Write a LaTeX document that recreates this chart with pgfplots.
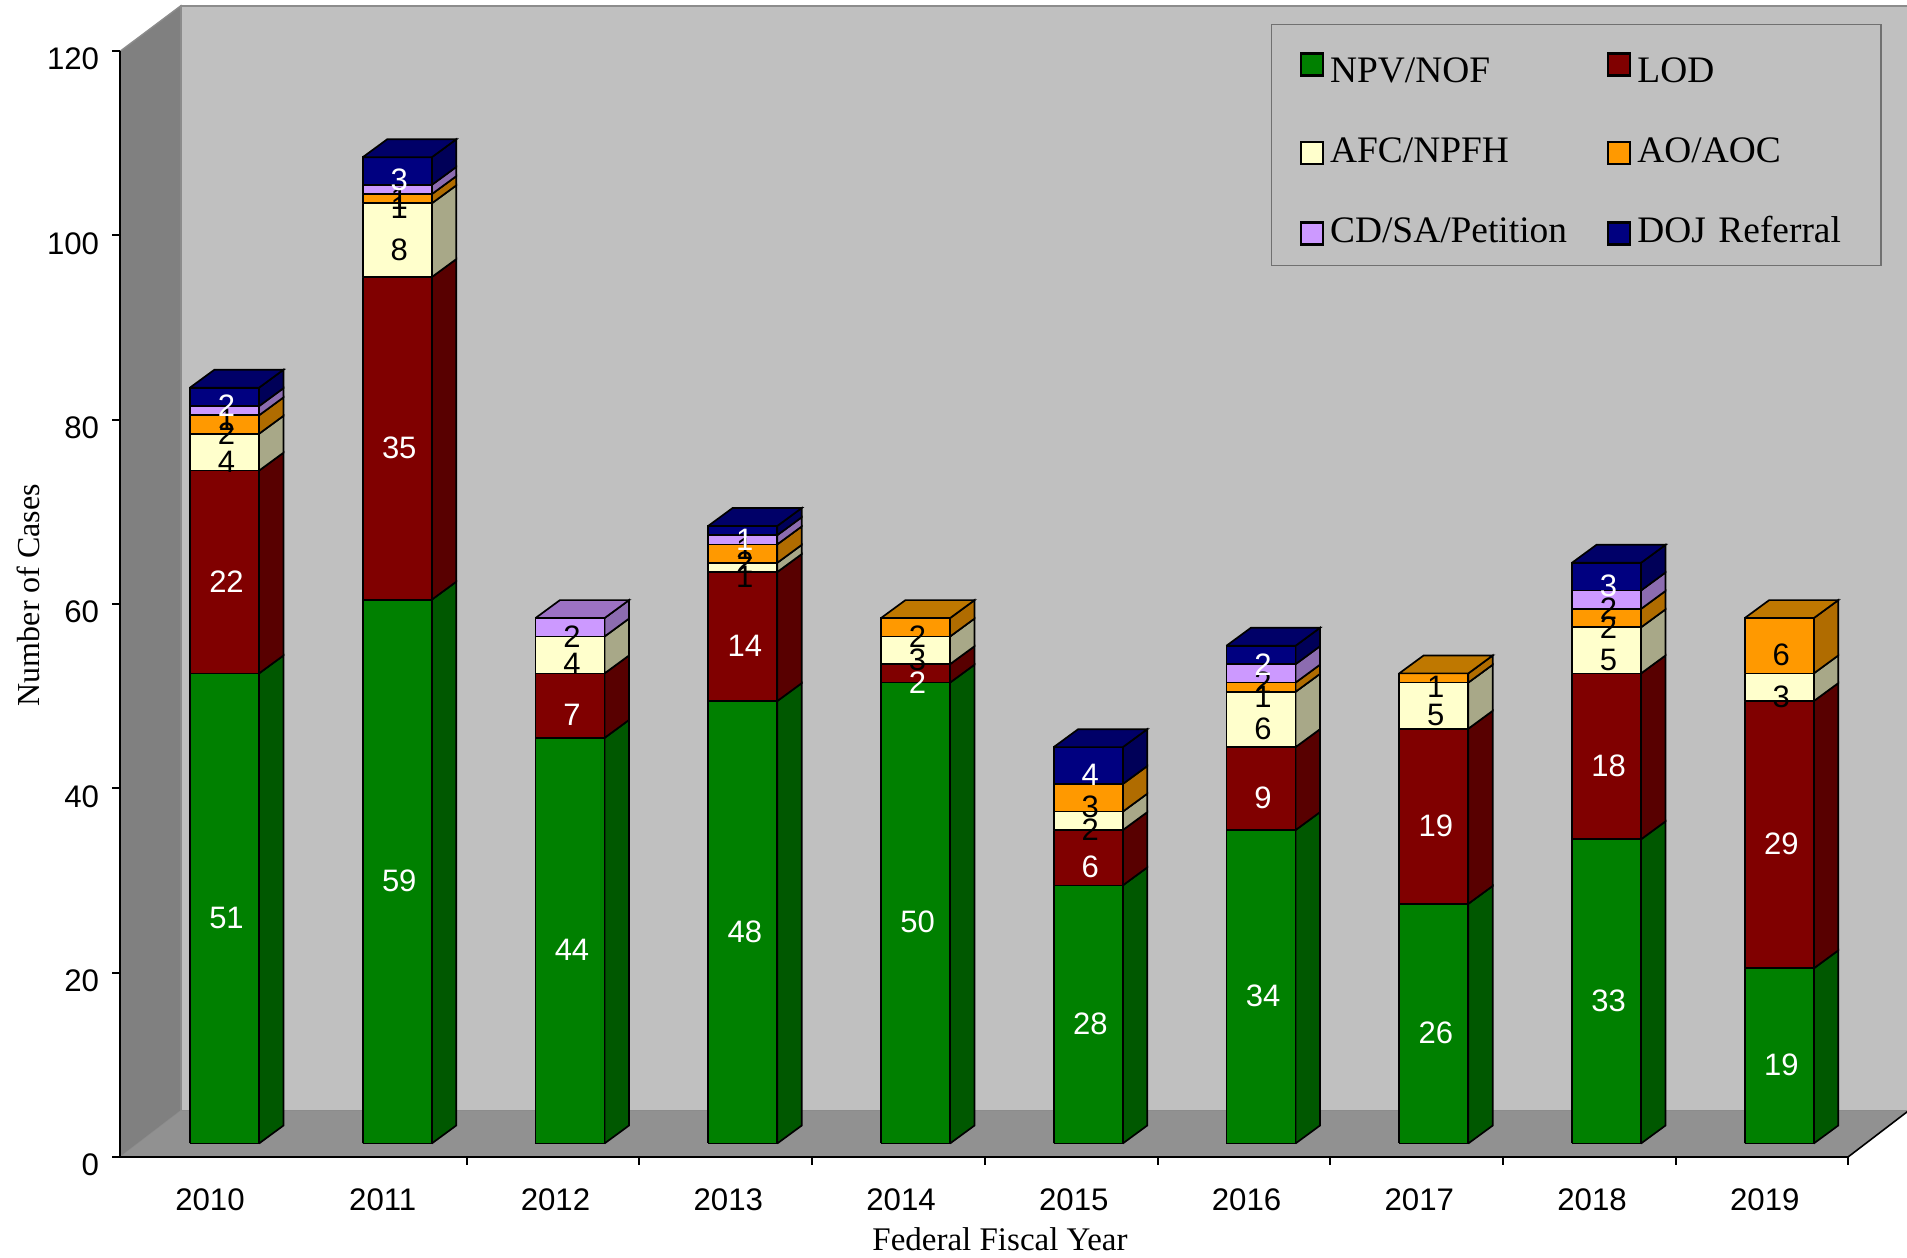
\documentclass[border=0pt]{standalone}
\usepackage{pgfplots}
\pgfplotsset{compat=1.18}
\usepackage{fontspec}
\setmainfont{Liberation Sans}
\newfontfamily\serifface{Liberation Serif}
\definecolor{cNPV}{HTML}{008000}\definecolor{sNPV}{HTML}{005800}\definecolor{tNPV}{HTML}{006000}
\definecolor{cLOD}{HTML}{800000}\definecolor{sLOD}{HTML}{580000}\definecolor{tLOD}{HTML}{600000}
\definecolor{cAFC}{HTML}{FFFFCC}\definecolor{sAFC}{HTML}{A8A888}\definecolor{tAFC}{HTML}{C0C09A}
\definecolor{cAO}{HTML}{FF9900}\definecolor{sAO}{HTML}{B06C00}\definecolor{tAO}{HTML}{BF7800}
\definecolor{cCD}{HTML}{CC99FF}\definecolor{sCD}{HTML}{8C6CB0}\definecolor{tCD}{HTML}{9C72C4}
\definecolor{cDOJ}{HTML}{000080}\definecolor{sDOJ}{HTML}{000058}\definecolor{tDOJ}{HTML}{000068}
\definecolor{wallc}{HTML}{C0C0C0}\definecolor{sidewall}{HTML}{808080}\definecolor{floorc}{HTML}{919191}
\definecolor{edgec}{HTML}{8C8C8C}
\tikzset{facestyle/.style={draw=black,line width=0.85pt,line join=miter}}
\def\dX{0.1418}\def\dY{1.95}\def\baseY{1.47}
\newcommand\faces[2]{% value, series key
  \ifnum#1>0
    \pgfmathsetmacro\ya{\ycur}\pgfmathsetmacro\yb{\ycur+#1}
    \pgfmathsetmacro\yc{\ya+\dY}\pgfmathsetmacro\yd{\yb+\dY}
    \pgfmathsetmacro\xc{\xr+\dX}
    \edef\tmp{\noexpand\addplot[forget plot,facestyle,fill=s#2] coordinates {(\xr,\ya)(\xc,\yc)(\xc,\yd)(\xr,\yb)(\xr,\ya)};
      \noexpand\addplot[forget plot,facestyle,fill=c#2] coordinates {(\xl,\ya)(\xr,\ya)(\xr,\yb)(\xl,\yb)(\xl,\ya)};}\tmp
    \xdef\ycur{\yb}\xdef\topkey{#2}
  \fi}
\newcommand\seglabel[2]{% value, text colour
  \ifnum#1>0
    \pgfmathsetmacro\ylab{\ycur+#1/2-1.0}\pgfmathsetmacro\xlab{\xmid+0.0116}
    \edef\tmp{\noexpand\node[text=#2,inner sep=0pt,font=\noexpand\fontsize{15.5}{15.5}\noexpand\selectfont] at (axis cs:\xlab,\ylab) {#1};}\tmp
    \pgfmathsetmacro\ynew{\ycur+#1}\xdef\ycur{\ynew}
  \fi}
\newcommand\stackbar[7]{%
  \pgfmathsetmacro\xmid{#1+0.0839}\pgfmathsetmacro\xl{\xmid-0.2000}\pgfmathsetmacro\xr{\xmid+0.2000}
  \xdef\ycur{\baseY}
  \faces{#2}{NPV}\faces{#3}{LOD}\faces{#4}{AFC}\faces{#5}{AO}\faces{#6}{CD}\faces{#7}{DOJ}
  \pgfmathsetmacro\yt{\ycur+\dY}\pgfmathsetmacro\xc{\xr+\dX}\pgfmathsetmacro\xd{\xl+\dX}
  \edef\tmp{\noexpand\addplot[forget plot,facestyle,fill=t\topkey] coordinates {(\xl,\ycur)(\xr,\ycur)(\xc,\yt)(\xd,\yt)(\xl,\ycur)};}\tmp
  \xdef\ycur{\baseY}
  \seglabel{#2}{white}\seglabel{#3}{white}\seglabel{#4}{black}\seglabel{#5}{black}\seglabel{#6}{black}\seglabel{#7}{white}%
}
\begin{document}
\begin{tikzpicture}[x=1pt,y=1pt]
\useasboundingbox (0,0) rectangle (953.5,629);
\begin{axis}[
  at={(60.25pt,50.5pt)},anchor=south west,
  scale only axis,width=863.75pt,height=553pt,
  xmin=-0.5181,xmax=9.4819,ymin=0,ymax=120,clip=false,axis on top,
  axis x line*=bottom,axis y line*=left,
  axis line style={-,line width=1pt,black},
  tick align=outside,
  xtick={0,...,9},
  xticklabels={2010,2011,2012,2013,2014,2015,2016,2017,2018,2019},
  xtick style={draw=none},
  extra x ticks={1.4859,2.4859,3.4859,4.4859,5.4859,6.4859,7.4859,8.4859,9.4819},
  extra x tick labels={},
  extra x tick style={xtick style={draw=black,line width=1pt}},
  ytick={0,20,40,60,80,100,120},
  ytick style={draw=black,line width=1pt},
  major tick length=4pt,
  /pgf/number format/assume math mode=true,
  x tick label style={font=\fontsize{15.6}{15.6}\selectfont,inner sep=0pt,anchor=north,yshift=-11.5pt},
  y tick label style={font=\fontsize{15.6}{15.6}\selectfont,inner sep=0pt,anchor=east,xshift=-6.5pt,yshift=-4pt},
  xlabel={\serifface\fontsize{16.5}{16.5}\selectfont Federal Fiscal Year},
  ylabel={\serifface\fontsize{16}{16}\selectfont Number of Cases},
  xlabel style={at={(axis description cs:0.5091,-0.0741)},anchor=center,inner sep=0pt},
  ylabel style={at={(axis description cs:-0.0536,0.5081)},anchor=center,inner sep=0pt},
  legend columns=2,
  legend cell align=left,
  legend style={at={(axis description cs:0.6660,1.02441)},anchor=north west,
    draw=edgec!80!black,line width=0.7pt,fill=none,
    inner xsep=14pt,inner ysep=7.8pt,row sep=24.15pt,
    font=\serifface\fontsize{18.7}{18.7}\selectfont,
    nodes={inner sep=0pt,text height=12.5pt,text depth=3.5pt},
    /tikz/row 1/.append style={nodes={text height=21pt}},
    /tikz/column 4/.append style={nodes={text width=107.8pt}},
    /tikz/every odd column/.append style={column sep=3pt},
    /tikz/every even column/.append style={column sep=20pt}},
  legend image code/.code={\draw[#1,line width=1.2pt,draw=black] (0pt,-5.3pt) rectangle (11pt,5.7pt);},
]
% walls and floor
\addplot[forget plot,draw=edgec,line width=0.7pt,fill=sidewall] coordinates {(-0.5181,0)(-0.1691,5)(-0.1691,124.9)(-0.5181,120)(-0.5181,0)};
\addplot[forget plot,draw=edgec,line width=0.9pt,fill=wallc] coordinates {(-0.1691,5)(9.8309,5)(9.8309,124.9)(-0.1691,124.9)(-0.1691,5)};
\addplot[forget plot,draw=none,fill=floorc] coordinates {(-0.5181,0)(9.4819,0)(9.8309,5)(-0.1691,5)(-0.5181,0)};
\addplot[forget plot,draw=black,line width=0.8pt] coordinates {(9.4819,0)(9.8309,5)};
% index  NPV LOD AFC AO CD DOJ
\stackbar{0}{51}{22}{4}{2}{1}{2}
\stackbar{1}{59}{35}{8}{1}{1}{3}
\stackbar{2}{44}{7}{4}{0}{2}{0}
\stackbar{3}{48}{14}{1}{2}{1}{1}
\stackbar{4}{50}{2}{3}{2}{0}{0}
\stackbar{5}{28}{6}{2}{3}{0}{4}
\stackbar{6}{34}{9}{6}{1}{2}{2}
\stackbar{7}{26}{19}{5}{1}{0}{0}
\stackbar{8}{33}{18}{5}{2}{2}{3}
\stackbar{9}{19}{29}{3}{6}{0}{0}
\addlegendimage{fill=cNPV}\addlegendentry{NPV/NOF}
\addlegendimage{fill=cLOD}\addlegendentry{LOD}
\addlegendimage{fill=cAFC}\addlegendentry{AFC/NPFH}
\addlegendimage{fill=cAO}\addlegendentry{AO/AOC}
\addlegendimage{fill=cCD}\addlegendentry{CD/SA/Petition}
\addlegendimage{fill=cDOJ}\addlegendentry{DOJ Referral}
\end{axis}
\end{tikzpicture}
\end{document}
